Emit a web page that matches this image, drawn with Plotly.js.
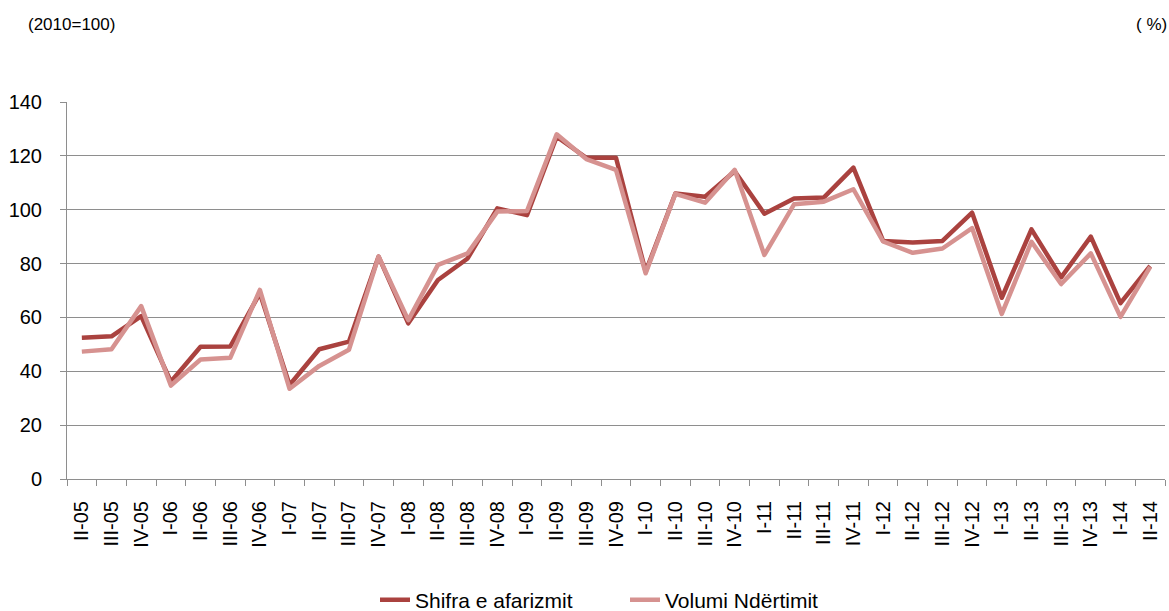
<!DOCTYPE html>
<html>
<head>
<meta charset="utf-8">
<script src="https://cdn.plot.ly/plotly-3.0.1.min.js"></script>
<style>
html,body{margin:0;padding:0;background:#fff;}
#chart{width:1169px;height:611px;}
.js-line{stroke-linejoin:round;}
</style>
</head>
<body>
<div id="chart"></div>
<script>
var categories = ["II-05","III-05","IV-05","I-06","II-06","III-06","IV-06","I-07","II-07","III-07","IV-07",
  "I-08","II-08","III-08","IV-08","I-09","II-09","III-09","IV-09","I-10","II-10","III-10","IV-10",
  "I-11","II-11","III-11","IV-11","I-12","II-12","III-12","IV-12","I-13","II-13","III-13","IV-13","I-14","II-14"];

var shifra = [52.5, 53.0, 60.5, 36.1, 49.1, 49.2, 69.0, 34.9, 48.2, 51.0, 82.6,
  57.8, 73.9, 81.9, 100.5, 98.0, 127.1, 119.3, 119.3, 77.0, 106.0, 104.8, 114.3,
  98.5, 104.2, 104.5, 115.6, 88.4, 87.8, 88.4, 98.9, 67.3, 92.7, 74.9, 90.0, 65.3, 79.1];

var volumi = [47.3, 48.2, 64.2, 34.7, 44.4, 45.0, 70.2, 33.5, 42.0, 48.0, 82.6,
  59.0, 79.5, 83.8, 99.3, 99.5, 128.0, 118.8, 114.8, 76.4, 105.9, 102.6, 114.8,
  83.2, 102.0, 103.0, 107.6, 88.2, 84.0, 85.6, 93.2, 61.3, 88.1, 72.4, 83.8, 60.2, 78.8];

var yTicks = [0, 20, 40, 60, 80, 100, 120, 140];

var FONT = "'Liberation Sans', Arial, sans-serif";
var GRID = "#8e8e8e";

var traces = [
  {x: categories, y: shifra, type: "scatter", mode: "lines", name: "Shifra e afarizmit",
   line: {color: "#aa423f", width: 4.5}},
  {x: categories, y: volumi, type: "scatter", mode: "lines", name: "Volumi Ndërtimit",
   line: {color: "#d69290", width: 4.5}}
];

var layout = {
  width: 1169, height: 611,
  margin: {l: 67, r: 4, t: 102, b: 132},
  paper_bgcolor: "#fff", plot_bgcolor: "#fff",
  font: {family: FONT, color: "#000", size: 20},
  showlegend: true,
  legend: {
    orientation: "h", xref: "container", yref: "container",
    x: 375/1169, xanchor: "left", y: 11/611, yanchor: "middle",
    font: {family: FONT, size: 21, color: "#000"},
    entrywidth: 205, entrywidthmode: "pixels",
    bgcolor: "rgba(0,0,0,0)", traceorder: "normal"
  },
  xaxis: {
    type: "category", range: [-0.5, categories.length - 0.5],
    showgrid: false, showline: true, linecolor: GRID, linewidth: 1,
    ticks: "outside", tickson: "boundaries", ticklen: 6, tickcolor: GRID, tickwidth: 1,
    tickangle: -90, tickfont: {family: FONT, size: 20, color: "#000"},
    ticklabelstandoff: 13, zeroline: false, fixedrange: true
  },
  yaxis: {
    range: [0, 140], tickvals: yTicks, ticktext: yTicks.map(String),
    showgrid: true, gridcolor: GRID, gridwidth: 1,
    showline: true, linecolor: GRID, linewidth: 1,
    ticks: "outside", ticklen: 6, tickcolor: GRID, tickwidth: 1,
    tickfont: {family: FONT, size: 20, color: "#000"},
    ticklabelstandoff: 14, zeroline: false, fixedrange: true
  },
  annotations: [
    {text: "(2010=100)", xref: "paper", yref: "paper", x: (26 - 67)/1098, y: (479 - 25)/377,
     xanchor: "left", yanchor: "middle", showarrow: false, font: {family: FONT, size: 17, color: "#000"}},
    {text: "( %)", xref: "paper", yref: "paper", x: (1169 - 67)/1098, y: (479 - 25)/377,
     xanchor: "right", yanchor: "middle", showarrow: false, font: {family: FONT, size: 17, color: "#000"}}
  ]
};

Plotly.newPlot("chart", traces, layout, {displayModeBar: false, staticPlot: true});
</script>
</body>
</html>
